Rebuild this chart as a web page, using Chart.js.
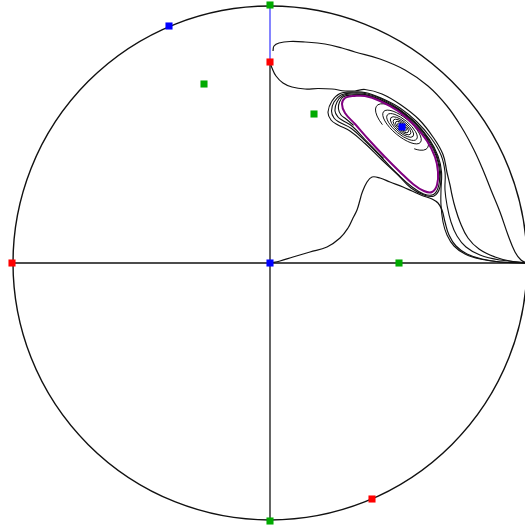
<!DOCTYPE html>
<html lang="en">
<head>
<meta charset="UTF-8" />
<title>Phase portrait on the Poincaré disc</title>
<script src="https://cdn.jsdelivr.net/npm/chart.js"></script>
<style>
  html, body { margin: 0; padding: 0; background: #fff; }
  #wrap { width: 525px; height: 530px; }
</style>
</head>
<body>
<div id="wrap"><canvas id="disc" width="525" height="530"></canvas></div>
<script>
// disc coordinates: origin at the centre, y pointing up
const discRadius = 257;

// equilibria (finite and at infinity)
const greenPts = [[0, 258], [0, -258], [129, 0], [-66, 179], [44, 149]];
const redPts = [[-258, 0], [0, 201], [102, -236]];
const bluePts = [[0, 0], [-101, 237], [132, 136]];

// invariant axes
const axisH = [[-257, 0], [257, 0]];
const axisV = [[0, 201], [0, -257]];
const axisVTop = [[0, 257], [0, 201]];

// outer orbit running to the node at infinity
const orbitA = [[3, 212], [4, 217], [9, 220], [20, 221.5], [35, 221], [55, 219], [72, 215], [85, 211],
  [110, 204], [135, 193], [158, 177], [177, 157], [192, 135], [204, 113], [213, 93], [221, 73],
  [230, 51], [238, 28], [245, 11], [251, 3], [257, 0]];

// separatrix leaving the saddle on the y axis
const orbitB = [[0, 201], [2, 195], [6, 187], [13, 180], [22, 176], [35, 174], [48, 174.5], [62, 174],
  [75, 172], [85, 172], [95, 173.5], [112, 169], [131, 158], [149, 143.5], [163, 126], [173, 108.5],
  [177, 90.5], [180, 78], [182, 68], [185, 56], [190, 41], [198, 25], [209, 14], [225, 6], [240, 2], [257, 0]];

// orbit leaving the origin
const orbitC = [[0, 0], [10, 2], [23, 6], [40, 11], [57, 16], [70, 25], [78, 35], [83, 45], [87, 53],
  [90, 63], [92, 70], [97, 81], [102, 86], [110, 85], [120, 81], [133, 76], [142, 72], [152, 67.5],
  [162, 64], [168, 60], [172, 53], [175, 41], [179, 28], [186, 17], [197, 9], [212, 4], [230, 1], [257, 0]];

// orbits winding around the cycle from outside
const orbitR1 = [[257, 0], [230, 1], [210, 4], [195, 9], [184, 17], [177, 28], [173, 41], [171, 58],
  [171, 73], [171.5, 91], [168, 107], [159.4, 123.6], [145.8, 139.8], [129, 154], [110.8, 164.4],
  [95, 169.5], [81, 170], [71, 168], [64, 161], [61.5, 152], [64, 145], [69, 141], [81.4, 134.5],
  [96.5, 120.6], [113, 104], [128, 88.6], [141.8, 76.3], [153.7, 69], [163.5, 68.5], [168.6, 76.8],
  [169.5, 91], [166.4, 106.5], [158, 122.7], [144.7, 138.7], [128.5, 152.8], [110.3, 163], [95, 168],
  [81.7, 168], [73.4, 166.2], [69.5, 161], [68.5, 154], [71, 148], [76, 144], [83.6, 137.6]];

const orbitR2 = [[257, 0], [230, 3], [210, 8], [196, 16], [187, 27], [181, 41], [177, 58], [175, 73],
  [175, 91], [171, 108], [161, 125], [147, 141], [130, 155], [111, 165], [95, 170.5], [81, 170.8],
  [70, 169.5], [62, 162], [58, 151], [61, 143], [68, 138], [80, 132], [95, 119.5], [112, 103],
  [128, 88], [141, 75], [154, 68], [164, 67], [170, 76], [170.5, 91], [167, 107], [159, 123],
  [145.5, 139.5], [129, 153], [110.5, 163.5], [95, 168.5], [81.5, 169], [73, 167.5], [67, 161],
  [65, 152], [68, 146], [72, 143], [82.5, 136.5], [97, 121.3], [113.6, 104.6]];

// limit cycle
const limitCycle = [[82, 167], [95, 167], [110, 162], [128, 152], [144, 138], [157, 122], [165, 106],
  [168, 91], [167, 78], [162, 71], [154, 72], [143, 79], [130, 91], [115, 106], [99, 123], [85, 139],
  [75, 150], [72, 159], [75, 165], [82, 167]];

// rings of the spiral around the focus (semi-axes in disc units, arc span in degrees)
const spiralCenter = [132, 136];
const spiralTilt = 40;
const ringMajor = [3, 5.5, 8, 11, 14.5, 19, 24, 33];
const ringMinor = [1.3, 2.2, 3.2, 4.3, 5.6, 7.2, 9, 12.5];
const ringFrom = [0, 0, 0, 0, 0, 0, 0, 120];
const ringTo = [360, 360, 360, 360, 360, 360, 360, 405];

const toXY = pts => pts.map(([x, y]) => ({ x, y }));

const discPlugin = {
  id: 'discPlugin',
  beforeDatasetsDraw(chart) {
    const { ctx, scales: { x, y } } = chart;
    const cx = x.getPixelForValue(0), cy = y.getPixelForValue(0);
    const rx = x.getPixelForValue(discRadius) - cx;
    const ry = cy - y.getPixelForValue(discRadius);
    ctx.save();
    ctx.strokeStyle = '#111';
    ctx.lineWidth = 1.4;
    ctx.beginPath();
    ctx.ellipse(cx, cy, rx, ry, 0, 0, Math.PI * 2);
    ctx.stroke();

    const fx = x.getPixelForValue(spiralCenter[0]);
    const fy = y.getPixelForValue(spiralCenter[1]);
    const unit = x.getPixelForValue(1) - x.getPixelForValue(0);
    const deg = Math.PI / 180;
    ctx.lineWidth = 1;
    ringMajor.forEach((a, i) => {
      ctx.beginPath();
      ctx.ellipse(fx, fy, a * unit, ringMinor[i] * unit, spiralTilt * deg, ringFrom[i] * deg, ringTo[i] * deg);
      ctx.stroke();
    });
    ctx.restore();
  }
};

const marks = (pts, color) => ({
  data: toXY(pts), showLine: false, pointStyle: 'rect', pointRadius: 5,
  backgroundColor: color, borderWidth: 0
});
const curve = (pts, color, width) => ({
  data: toXY(pts), showLine: true, pointRadius: 0, borderColor: color,
  borderWidth: width, tension: 0.4, fill: false
});

new Chart(document.getElementById('disc'), {
  type: 'scatter',
  data: {
    datasets: [
      marks(greenPts, '#00aa00'),
      marks(redPts, '#ff0000'),
      marks(bluePts, '#0000ff'),
      curve(limitCycle, '#800080', 2),
      curve(axisVTop, '#3333ff', 1.2),
      curve(axisH, '#111', 1.3),
      curve(axisV, '#111', 1.3),
      curve(orbitA, '#111', 1.2),
      curve(orbitB, '#111', 1.2),
      curve(orbitC, '#111', 1.2),
      curve(orbitR1, '#111', 1.1),
      curve(orbitR2, '#111', 1.1)
    ]
  },
  options: {
    responsive: false,
    animation: false,
    events: [],
    layout: { padding: 0, autoPadding: false },
    plugins: { legend: { display: false }, tooltip: { enabled: false } },
    scales: {
      x: { type: 'linear', min: -270, max: 255, display: false },
      y: { type: 'linear', min: -267, max: 263, display: false }
    }
  },
  plugins: [discPlugin]
});
</script>
</body>
</html>
